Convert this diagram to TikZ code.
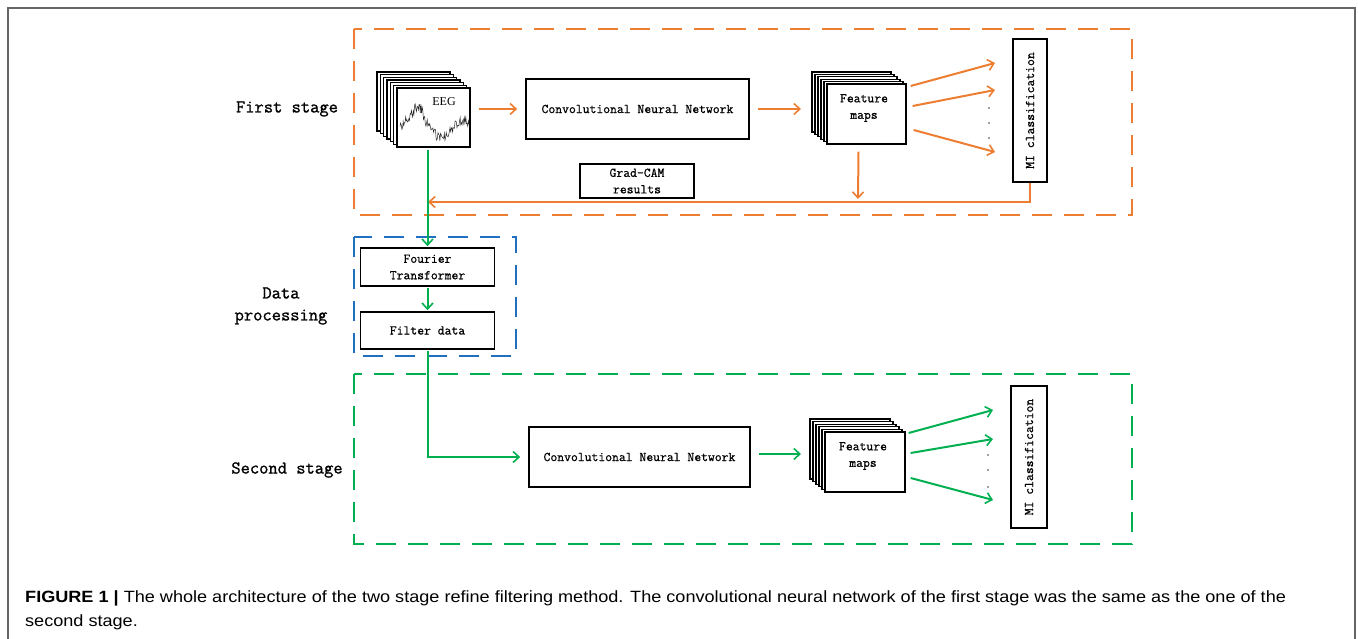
\documentclass[tikz,border=0pt]{standalone}
\usepackage{fontspec}
\setmainfont{Liberation Sans}
\newfontfamily\eegfont{Liberation Serif}
\newfontfamily\monoA[FakeBold=0.8]{Latin Modern Mono}
\newfontfamily\monoB[FakeBold=1.2]{Latin Modern Mono}
\usetikzlibrary{arrows.meta,calc}
\definecolor{orng}{HTML}{ED7D31}
\definecolor{blu}{HTML}{1F70C1}
\definecolor{grn}{HTML}{00B050}
\tikzset{
  box/.style={draw=black, line width=1.6, fill=white, inner sep=0pt, align=center,
    font=\monoA\fontsize{13.3}{16.5}\selectfont},
  card/.style={draw=black, line width=1.3, fill=white},
  txt/.style={inner sep=0pt, align=center, font=\monoA\fontsize{13.3}{16.5}\selectfont},
  stage/.style={inner sep=0pt, align=center, font=\monoB\fontsize{18}{22}\selectfont},
  tip/.style={-{Straight Barb[length=6pt,width=11pt,line width=1.6pt]}},
  orarr/.style={draw=orng, line width=2, tip},
  grarr/.style={draw=grn, line width=2, tip},
  frame/.style={line width=2, dash pattern=on 20pt off 12pt},
  dot/.style={fill=black!75, circle, inner sep=0pt, minimum size=1.8pt},
  captext/.style={anchor=base west, inner sep=0pt, font=\fontsize{16.3}{20}\selectfont}
}
\begin{document}
\begin{tikzpicture}[x=1pt,y=-1pt]
\useasboundingbox (0,0) rectangle (1358,639);
% outer frame
\draw[black!60, line width=1.2] (8,639) -- (8,8) -- (1355,8) -- (1355,639);

% dashed group frames
\draw[orng, frame] (354,29) rectangle (1132,215);
\draw[blu, frame] (354,237) rectangle (516,356);
\draw[grn, frame] (354,374) rectangle (1132,544);

% stage labels
\node[stage] (s1) at (287,109) {First stage};
\node[stage] (s2) at (281,306) {Data\\processing};
\node[stage] (s3) at (287,470) {Second stage};

% EEG stack
\foreach \i in {6,...,1}
  \draw[card] ($(397,88)+(-3.33*\i,-2.67*\i)$) rectangle ++(73,59);
\node[card, minimum width=73, minimum height=59, inner sep=0pt] (eeg) at (433.5,117.5) {};
\pgfmathsetseed{7}
\draw[black!85, line width=0.5]
  plot[domain=400:469, samples=110]
  (\x, {126 - 20*exp(-((\x-418)/7)^2) - 6*exp(-((\x-408)/5)^2) + 12*exp(-((\x-441)/9)^2) - 6*exp(-((\x-462)/6)^2) + 5*rand});
\node[inner sep=0pt, font=\eegfont\fontsize{12}{14}\selectfont] (eegt) at (444,102) {EEG};

% first stage
\node[box, minimum width=223, minimum height=60] (cnn1) at (637.5,109) {Convolutional Neural Network};
\foreach \i in {5,...,1}
  \draw[card] ($(827,84)+(-3*\i,-2.4*\i)$) rectangle ++(79,60);
\node[card, minimum width=79, minimum height=60, inner sep=0pt] (fm1) at (866.5,114) {};
\node[txt] (fm1t) at (864,108) {Feature\\maps};
\node[box, minimum width=34, minimum height=143] (mi1) at (1030,110.5) {};
\node[txt, rotate=90] (mi1t) at (mi1) {MI classification};
\node[box, minimum width=114, minimum height=34, line width=1.4] (gc) at (637,181) {Grad-CAM\\results};

\coordinate (fm1in) at (801,109);
\coordinate (o1a) at (995,63);
\coordinate (o1b) at (995,90);
\coordinate (o1c) at (995,152);
\coordinate (fbt) at (858,199);
\coordinate (fbend) at (428,202);

\draw[orarr, shorten <=8pt, shorten >=8pt] (cnn1.west -| eeg.east) -- (cnn1.west);
\draw[orarr, shorten <=8pt] (cnn1.east) -- (fm1in);
\draw[orarr] ($(fm1.east)+(4,-28)$) -- (o1a);
\draw[orarr] ($(fm1.east)+(6,-8)$) -- (o1b);
\draw[orarr] ($(fm1.east)+(7,16)$) -- (o1c);
\draw[orarr] ($(fm1.south)+(-8,7)$) -- (fbt);
\draw[orarr] (mi1.south) |- (fbend);
\node[dot] (d1a) at (989,108) {};
\node[dot] (d1b) at (989,123) {};
\node[dot] (d1c) at (989,138) {};

% data processing
\node[box, minimum width=134, minimum height=38] (ft) at (427.5,267) {Fourier\\Transformer};
\node[box, minimum width=134, minimum height=37] (fd) at (427.5,330.5) {Filter data};
\draw[grarr, shorten <=2pt, shorten >=1pt] (eeg.south -| ft.north) -- (ft.north);
\draw[grarr, shorten <=1pt, shorten >=1pt] (ft.south) -- (fd.north);

% second stage
\node[box, minimum width=221, minimum height=60] (cnn2) at (639.5,457) {Convolutional Neural Network};
\foreach \i in {5,...,1}
  \draw[card] ($(825,432)+(-3*\i,-2.6*\i)$) rectangle ++(80,60);
\node[card, minimum width=80, minimum height=60, inner sep=0pt] (fm2) at (865,462) {};
\node[txt] (fm2t) at (863,456) {Feature\\maps};
\node[box, minimum width=36, minimum height=142] (mi2) at (1029,457) {};
\node[txt, rotate=90] (mi2t) at (mi2) {MI classification};

\coordinate (fm2in) at (801,454);
\coordinate (o2a) at (993,410);
\coordinate (o2b) at (993,439);
\coordinate (o2c) at (993,500);

\draw[grarr, shorten <=1pt, shorten >=8pt] (fd.south) |- (cnn2.west);
\draw[grarr, shorten <=8pt] (cnn2.east |- fm2in) -- (fm2in);
\draw[grarr] ($(fm2.east)+(3,-29)$) -- (o2a);
\draw[grarr] ($(fm2.east)+(5,-9)$) -- (o2b);
\draw[grarr] ($(fm2.east)+(5,16)$) -- (o2c);
\node[dot] (d2a) at (988,455) {};
\node[dot] (d2b) at (988,470) {};
\node[dot] (d2c) at (988,487) {};

% caption
\node[captext] (cap1) at (25,602)
  {\scalebox{1.11}[1]{\textbf{FIGURE 1 |} The whole architecture of the two stage refine filtering method. The convolutional neural network of the first stage was the same as the one of the}};
\node[captext] (cap2) at (25,626)
  {\scalebox{1.11}[1]{second stage.}};
\end{tikzpicture}
\end{document}
